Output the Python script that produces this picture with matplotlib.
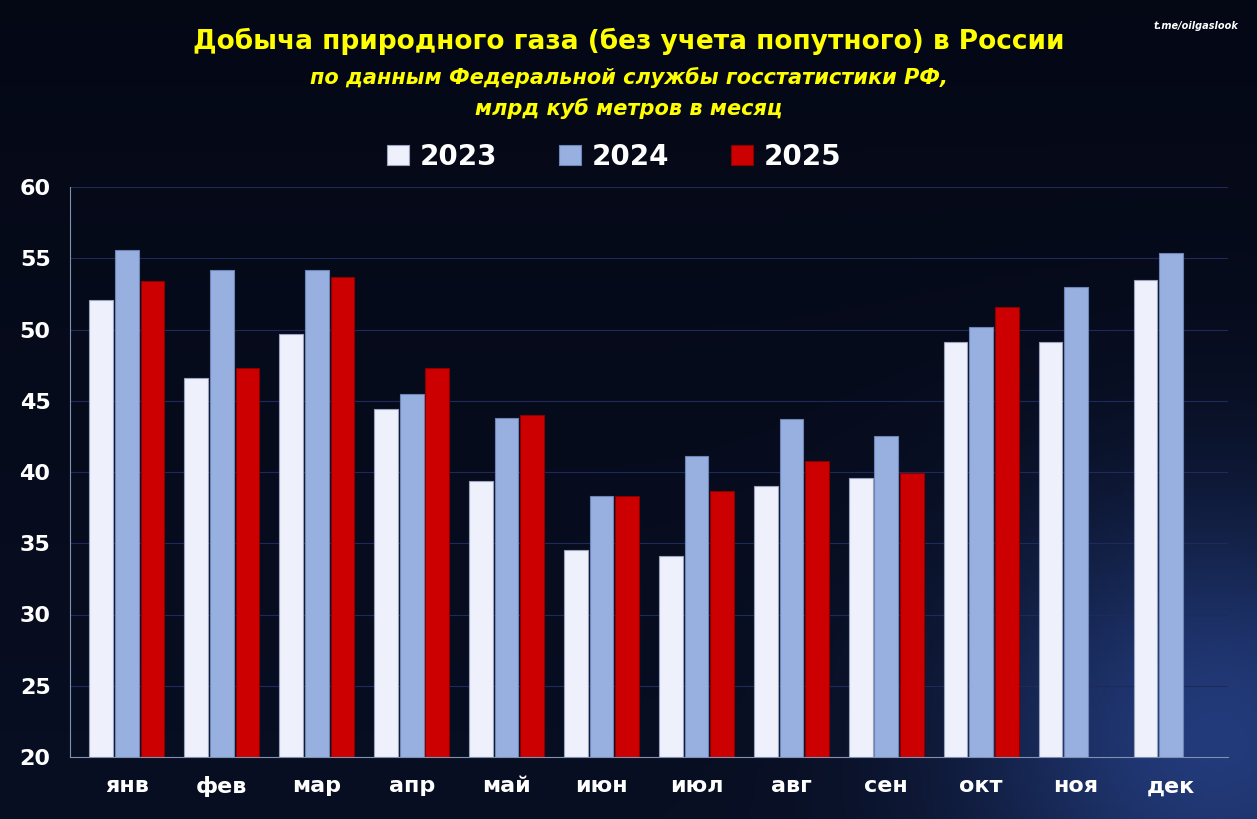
import matplotlib
matplotlib.use("Agg")
import matplotlib.pyplot as plt
import numpy as np

months = ["янв","фев","мар","апр","май","июн","июл","авг","сен","окт","ноя","дек"]
v2023 = [52.1,46.6,49.7,44.4,39.4,34.5,34.1,39.0,39.6,49.1,49.1,53.5]
v2024 = [55.6,54.2,54.2,45.5,43.8,38.3,41.1,43.7,42.5,50.2,53.0,55.4]
v2025 = [53.4,47.3,53.7,47.3,44.0,38.3,38.7,40.8,39.9,51.6,np.nan,np.nan]

fig = plt.figure(figsize=(12.57,8.19), dpi=100)
bg = fig.add_axes([0,0,1,1]); bg.axis("off")
yy, xx = np.mgrid[0:1:200j, 0:1:300j]
g = np.clip(0.05 + 0.7*np.exp(-((xx-0.97)**2/0.04 + (yy-0.1)**2/0.08)) + 0.1*(1-yy), 0, 1)
img = np.dstack([0.01+0.15*g, 0.02+0.25*g, 0.06+0.5*g])
bg.imshow(img, extent=[0,1,0,1], aspect="auto", origin="lower")
bg.set_xlim(0,1); bg.set_ylim(0,1)

ax = fig.add_axes([70/1257, 62/819, 1158/1257, 570/819])
ax.set_facecolor("none")
x = np.arange(len(months)); w = 0.27; bw = 0.25
ax.bar(x-w, v2023, bw, color="#eef0fb", edgecolor="#9aa3c0", lw=0.8, label="2023")
ax.bar(x, v2024, bw, color="#98b0df", edgecolor="#6d84b8", lw=0.8, label="2024")
ax.bar(x+w, v2025, bw, color="#cc0000", edgecolor="#880000", lw=0.8, label="2025")
ax.set_ylim(20,60); ax.set_xlim(-0.6, 11.6)
ax.set_yticks(range(20,61,5))
ax.set_xticks(x); ax.set_xticklabels(months)
ax.tick_params(colors="white", labelsize=16, length=0)
for t in ax.get_xticklabels()+ax.get_yticklabels(): t.set_fontweight("bold")
ax.tick_params(axis="x", pad=14)
ax.tick_params(axis="y", pad=14)
ax.grid(axis="y", color="#1e2a5a", lw=0.8); ax.set_axisbelow(True)
for s in ["top","right"]: ax.spines[s].set_visible(False)
for s in ["left","bottom"]: ax.spines[s].set_color("#8090b0")
leg = ax.legend(loc="lower center", bbox_to_anchor=(0.47,0.985), ncol=3, frameon=False,
                prop={"size":20,"weight":"bold"}, handlelength=0.8, handletextpad=0.4, columnspacing=2.2)
for t in leg.get_texts(): t.set_color("white")

fig.text(0.5, 0.94, "Добыча природного газа (без учета попутного) в России", ha="center",
         color="#ffff00", fontsize=19, fontweight="bold")
fig.text(0.5, 0.897, "по данным Федеральной службы госстатистики РФ,", ha="center",
         color="#ffff00", fontsize=15, fontweight="bold", style="italic")
fig.text(0.5, 0.86, "млрд куб метров в месяц", ha="center",
         color="#ffff00", fontsize=15, fontweight="bold", style="italic")
fig.text(0.985, 0.965, "t.me/oilgaslook", ha="right", color="white", fontsize=7,
         fontweight="bold", style="italic")
fig.savefig("out.png", dpi=100)
